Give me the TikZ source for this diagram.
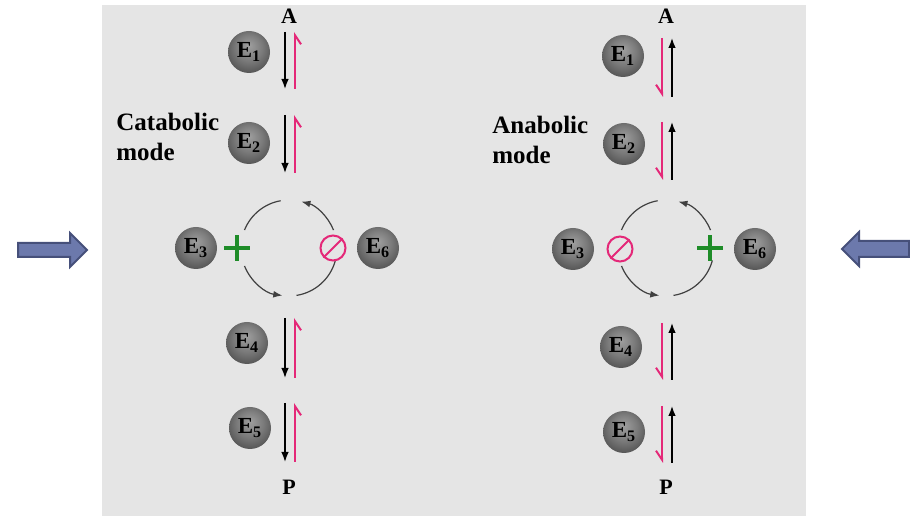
\documentclass[tikz,border=0pt]{standalone}
\usepackage{fontspec}
\setmainfont{Liberation Serif}
\usetikzlibrary{arrows.meta,calc,positioning}

\definecolor{panelgray}{RGB}{229,229,229}
\definecolor{inhib}{RGB}{228,40,120}
\definecolor{activ}{RGB}{30,140,40}
\definecolor{bigfill}{RGB}{108,121,172}
\definecolor{bigedge}{RGB}{70,80,122}

% matte grey sphere for the enzymes
\pgfdeclareradialshading{enzymeball}{\pgfpoint{0bp}{8bp}}{%
  color(0bp)=(black!38); color(16bp)=(black!52); color(30bp)=(black!68);
  color(42bp)=(black!82); color(50bp)=(black!90)}

\tikzset{
  enzyme/.style={circle,shading=enzymeball,minimum size=21pt,inner sep=0pt,
    font=\fontsize{11.5}{11.5}\selectfont\bfseries},
  flux/.style={black,line width=0.75pt,-{Latex[length=5pt,width=3.8pt]}},
  back/.style={inhib,line width=1pt,-{Straight Barb[right,length=4.5pt,width=6pt]}},
  cyc/.style={black!75,line width=0.6pt},
  cycarr/.style={cyc,-{Latex[length=4.5pt,width=3.4pt]}},
  plus/.style={activ,line width=2pt},
  stop/.style={circle,draw=inhib,line width=1pt,minimum size=12.5pt,inner sep=0pt},
  mode/.style={align=left,anchor=west,inner sep=0pt,font=\fontsize{12.5}{15}\selectfont\bfseries},
  metab/.style={font=\fontsize{11}{11}\selectfont\bfseries},
  bigarrow/.style={draw=bigedge,fill=bigfill,line width=1pt,line join=miter}
}

\begin{document}
\begin{tikzpicture}[x=0.5pt,y=-0.5pt]
  \useasboundingbox (0,0) rectangle (910,517);
  \fill[panelgray] (102,5) rectangle (806,516);

  % side arrows
  \draw[bigarrow] (18,243) -- (70,243) -- (70,233) -- (87,250) -- (70,267) -- (70,257) -- (18,257) -- cycle;
  \draw[bigarrow] (909,241) -- (859,241) -- (859,232) -- (842,249) -- (859,266) -- (859,257) -- (909,257) -- cycle;

  % ---- catabolic mode ----
  \node[metab] (AL) at (289,16) {A};
  \node[metab] (PL) at (289,487) {P};
  \node[mode] (catL) at (116,137) {Catabolic\\mode};

  \node[enzyme] (E1L) at (249,52) {E\textsubscript{1}};
  \node[enzyme] (E2L) at (249,143) {E\textsubscript{2}};
  \node[enzyme] (E3L) at (196,248) {E\textsubscript{3}};
  \node[enzyme] (E4L) at (247,343) {E\textsubscript{4}};
  \node[enzyme] (E5L) at (250,428) {E\textsubscript{5}};
  \node[enzyme] (E6L) at (378,248) {E\textsubscript{6}};

  \coordinate (L1t) at (285,32);  \coordinate (L1b) at (285,89);
  \coordinate (L2t) at (285,115); \coordinate (L2b) at (285,173);
  \coordinate (L4t) at (285,318); \coordinate (L4b) at (285,378);
  \coordinate (L5t) at (285,403); \coordinate (L5b) at (285,462);
  \foreach \s in {1,2,4,5}{
    \draw[flux] (L\s t) -- (L\s b);
    \draw[back] ([xshift=5pt]L\s b) -- ([xshift=5pt]L\s t);
  }

  \coordinate (cL) at (289,248);
  \draw[cyc] ($(cL)+(100:24pt)$) arc[start angle=100,end angle=158,radius=24pt];
  \draw[cycarr] ($(cL)+(202:24pt)$) arc[start angle=202,end angle=262,radius=24pt];
  \draw[cyc] ($(cL)+(279:24pt)$) arc[start angle=279,end angle=345,radius=24pt];
  \draw[cycarr] ($(cL)+(22:24pt)$) arc[start angle=22,end angle=75,radius=24pt];

  \node[minimum size=12.5pt,inner sep=0pt] (plusL) at (237,248) {};
  \draw[plus] (plusL.west) -- (plusL.east) (plusL.north) -- (plusL.south);
  \node[stop] (stopL) at (333,248) {};
  \draw[inhib,line width=1pt] (stopL.south west) -- (stopL.north east);

  % ---- anabolic mode ----
  \node[metab] (AR) at (666,16) {A};
  \node[metab] (PR) at (666,487) {P};
  \node[mode] (anaR) at (492,140) {Anabolic\\mode};

  \node[enzyme] (E1R) at (623,56) {E\textsubscript{1}};
  \node[enzyme] (E2R) at (624,144) {E\textsubscript{2}};
  \node[enzyme] (E3R) at (573,249) {E\textsubscript{3}};
  \node[enzyme] (E4R) at (621,347) {E\textsubscript{4}};
  \node[enzyme] (E5R) at (624,432) {E\textsubscript{5}};
  \node[enzyme] (E6R) at (755,249) {E\textsubscript{6}};

  \coordinate (R1t) at (672,38);  \coordinate (R1b) at (672,97);
  \coordinate (R2t) at (672,122); \coordinate (R2b) at (672,180);
  \coordinate (R4t) at (672,323); \coordinate (R4b) at (672,380);
  \coordinate (R5t) at (672,406); \coordinate (R5b) at (672,463);
  \foreach \s in {1,2,4,5}{
    \draw[flux] (R\s b) -- (R\s t);
    \draw[back] ([xshift=-5pt]R\s t) -- ([xshift=-5pt]R\s b);
  }

  \coordinate (cR) at (666,248);
  \draw[cyc] ($(cR)+(100:24pt)$) arc[start angle=100,end angle=158,radius=24pt];
  \draw[cycarr] ($(cR)+(202:24pt)$) arc[start angle=202,end angle=262,radius=24pt];
  \draw[cyc] ($(cR)+(279:24pt)$) arc[start angle=279,end angle=345,radius=24pt];
  \draw[cycarr] ($(cR)+(22:24pt)$) arc[start angle=22,end angle=75,radius=24pt];

  \node[stop] (stopR) at (620,249) {};
  \draw[inhib,line width=1pt] (stopR.south west) -- (stopR.north east);
  \node[minimum size=12.5pt,inner sep=0pt] (plusR) at (710,248) {};
  \draw[plus] (plusR.west) -- (plusR.east) (plusR.north) -- (plusR.south);
\end{tikzpicture}
\end{document}
